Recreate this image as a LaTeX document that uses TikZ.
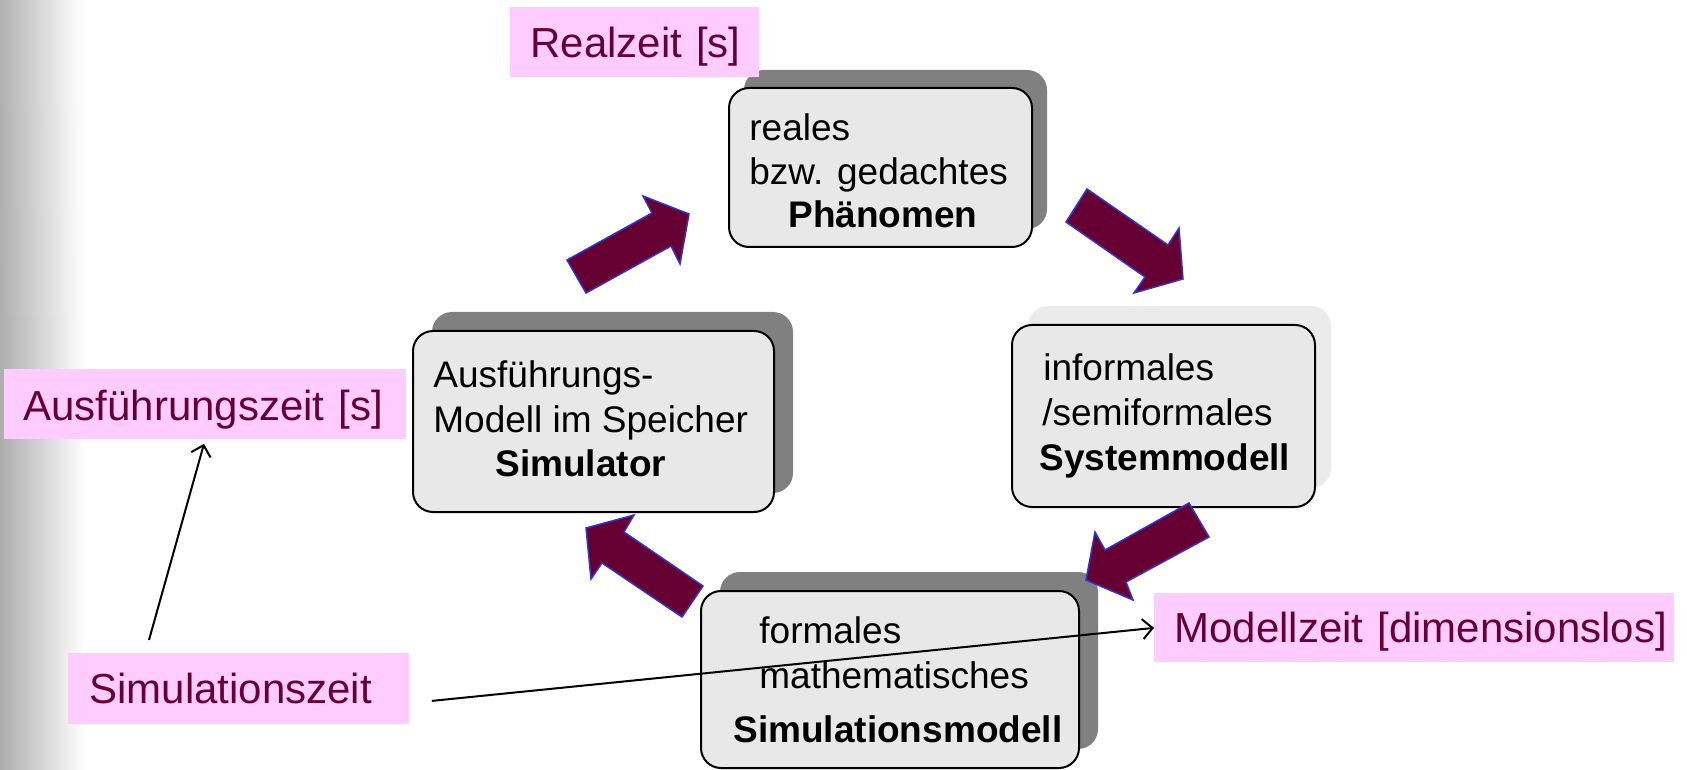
\documentclass[tikz,border=0pt]{standalone}
\usepackage{fontspec}
\setmainfont{Liberation Sans}
\usetikzlibrary{arrows.meta,shadows,calc,fadings}
\definecolor{boxgray}{HTML}{E8E8E8}
\definecolor{shadowgray}{HTML}{808080}
\definecolor{lightshadow}{HTML}{EBEBEB}
\definecolor{darkmaroon}{HTML}{660033}
\definecolor{arrowblue}{HTML}{3333CC}
\definecolor{pinkbg}{HTML}{FFCCFF}
\begin{document}
\begin{tikzpicture}[x=0.5pt,y=-0.5pt,
  box/.style={draw=black, line width=1pt, fill=boxgray, rounded corners=10pt, inner sep=0pt},
  darkshadow/.style 2 args={general shadow={draw=none, fill=shadowgray, shadow xshift=#1, shadow yshift=#2}},
  paleshadow/.style 2 args={general shadow={draw=none, fill=lightshadow, shadow xshift=#1, shadow yshift=#2}},
  boxtext/.style={anchor=base west, inner sep=0pt, font=\fontsize{18.5}{22}\selectfont},
  boldtext/.style={anchor=base west, inner sep=0pt, font=\fontsize{18.5}{22}\selectfont\bfseries},
  timelabel/.style={fill=pinkbg, text=darkmaroon, font=\fontsize{21}{25}\selectfont, anchor=north west, inner ysep=0pt, align=left},
  blockarrow/.style={fill=darkmaroon, draw=arrowblue, line width=0.75pt, line join=miter},
  thinarrow/.style={draw=black, line width=1pt, -{Straight Barb[length=5pt,width=10pt]}}
]
\useasboundingbox (0,0) rectangle (1687,770);
% slide background on the left
\shade[left color=black!32, right color=white] (0,0) rectangle (85,770);
\shade[left color=black!30, right color=white, path fading=south] (0,0) rectangle (80,520);

% boxes
\node[box, darkshadow={7.5pt}{9pt}, minimum width=151.5pt, minimum height=79.5pt] (phen) at (880.5,167.5) {};
\node[box, darkshadow={9.5pt}{9.5pt}, minimum width=180.5pt, minimum height=90.5pt] (simu) at (593.5,421.5) {};
\node[box, paleshadow={8pt}{9.5pt}, minimum width=151.5pt, minimum height=91pt] (sysm) at (1163.5,416) {};
\node[box, darkshadow={9.5pt}{9.5pt}, minimum width=189pt, minimum height=88.5pt] (simm) at (890,679.5) {};

% box texts
\node[boxtext] (phen1) at (749,141) {reales};
\node[boxtext] (phen2) at (749,185) {bzw. gedachtes};
\node[boldtext] (phen3) at (788,228) {Phänomen};

\node[boxtext] (simu1) at (433,387) {Ausführungs-};
\node[boxtext] (simu2) at (433,432) {Modell im Speicher};
\node[boldtext] (simu3) at (495,476) {Simulator};

\node[boxtext] (sysm1) at (1043,380) {informales};
\node[boxtext] (sysm2) at (1042,425) {/semiformales};
\node[boldtext] (sysm3) at (1039,470) {Systemmodell};

\node[boxtext] (simm1) at (759,643) {formales};
\node[boxtext] (simm2) at (759,688) {mathematisches};
\node[boldtext] (simm3) at (733,742) {Simulationsmodell};

% block arrows
\filldraw[blockarrow] (586,293) -- (567,260) -- (652,213) -- (643,196) -- (689,214) -- (680,264) -- (671,246) -- cycle;
\filldraw[blockarrow] (1087,189) -- (1168,245) -- (1179,228) -- (1183,279) -- (1134,293) -- (1145,277) -- (1066,222) -- cycle;
\filldraw[blockarrow] (1189,503) -- (1209,537) -- (1126,582) -- (1133,600) -- (1086,580) -- (1095,532) -- (1105,550) -- cycle;
\filldraw[blockarrow] (586,528) -- (634,515) -- (624,532) -- (703,586) -- (682,617) -- (602,563) -- (591,579) -- cycle;

% time labels
\node[timelabel, inner xsep=10pt, text width=104.5pt, text height=25pt, text depth=10pt] (realz) at (510,7) {\mbox{Realzeit [s]}};
\node[timelabel, inner xsep=9.5pt, text width=182pt, text height=25.5pt, text depth=9.5pt] (ausz) at (4,369) {\mbox{Ausführungszeit [s]}};
\node[timelabel, inner xsep=10.5pt, text width=149.5pt, text height=25pt, text depth=10.5pt] (simz) at (68,653) {\mbox{Simulationszeit}};
\node[timelabel, inner xsep=10pt, text width=240pt, text height=24.5pt, text depth=10pt] (modz) at (1154,593) {\mbox{Modellzeit [dimensionslos]}};

% thin arrows
\draw[thinarrow] ([shift={(81,-13)}]simz.north west) -- ([shift={(200,4)}]ausz.south west);
\draw[thinarrow] ([shift={(22,12)}]simz.east) -- (modz.west);
\end{tikzpicture}
\end{document}
